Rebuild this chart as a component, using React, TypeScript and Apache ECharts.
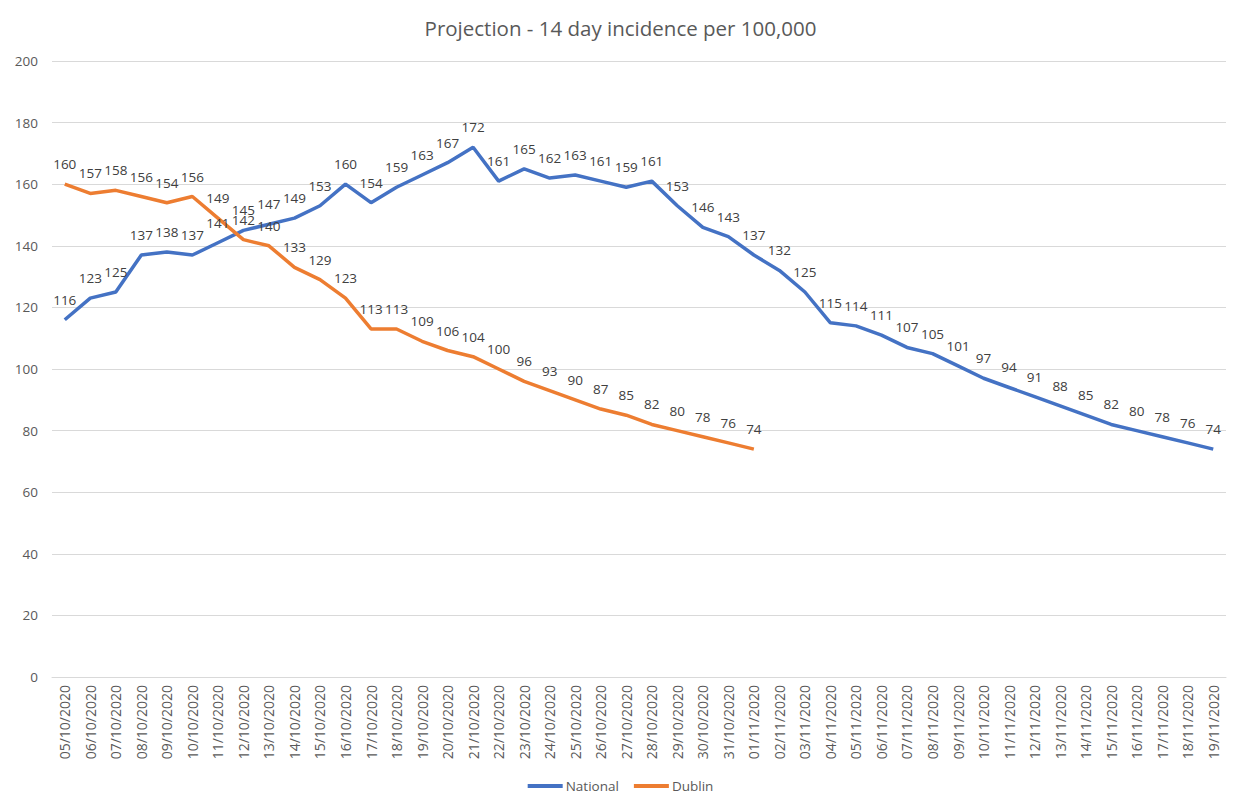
import React, { useEffect, useRef } from "react";
import * as echarts from "echarts";

const octDays = Array.from({ length: 27 }, (_, i) => i + 5);
const novDays = Array.from({ length: 19 }, (_, i) => i + 1);
const pad = (n: number) => (n < 10 ? "0" + n : String(n));
const categories: string[] = [
  ...octDays.map((d) => `${pad(d)}/10/2020`),
  ...novDays.map((d) => `${pad(d)}/11/2020`),
];

const national = [
  116, 123, 125, 137, 138, 137, 141, 145, 147, 149, 153, 160, 154, 159, 163, 167, 172,
  161, 165, 162, 163, 161, 159, 161, 153, 146, 143, 137, 132, 125, 115, 114, 111, 107,
  105, 101, 97, 94, 91, 88, 85, 82, 80, 78, 76, 74,
];

const dublin = [
  160, 157, 158, 156, 154, 156, 149, 142, 140, 133, 129, 123, 113, 113, 109, 106, 104,
  100, 96, 93, 90, 87, 85, 82, 80, 78, 76, 74,
];

const FONT = "Open Sans, Noto Sans, sans-serif";

export default function App() {
  const ref = useRef<HTMLDivElement>(null);
  useEffect(() => {
    if (!ref.current) return;
    const chart = echarts.init(ref.current, undefined, { renderer: "svg" });
    const label = {
      show: true,
      position: "top" as const,
      distance: 13,
      color: "#404040",
      fontSize: 13.5,
      fontFamily: FONT,
      opacity: 1,
    };
    const lineSeries = (name: string, data: number[], color: string) => ({
      name,
      type: "line",
      data,
      showSymbol: true,
      symbol: "circle",
      symbolSize: 0,
      lineStyle: { color, width: 3.5 },
      itemStyle: { color },
      label,
      labelLayout: { hideOverlap: false },
    });
    chart.setOption({
      animation: false,
      backgroundColor: "#ffffff",
      title: {
        text: "Projection - 14 day incidence per 100,000",
        left: "center",
        top: 12,
        textStyle: { color: "#595959", fontSize: 20.5, fontWeight: "normal", fontFamily: FONT },
      },
      legend: {
        bottom: 12,
        left: "center",
        icon: "rect",
        itemWidth: 35,
        itemHeight: 4,
        itemGap: 15,
        textStyle: { color: "#595959", fontSize: 13.5, fontFamily: FONT, padding: [0, 0, 0, -2] },
        data: ["National", "Dublin"],
      },
      grid: { left: 52, right: 15, top: 61, bottom: 133, containLabel: false },
      xAxis: {
        type: "category",
        data: categories,
        boundaryGap: true,
        axisLine: { show: true, lineStyle: { color: "#d9d9d9" } },
        axisTick: { show: false },
        axisLabel: {
          rotate: 90,
          interval: 0,
          color: "#595959",
          fontSize: 14,
          fontFamily: FONT,
          margin: 8,
        },
      },
      yAxis: {
        type: "value",
        min: 0,
        max: 200,
        interval: 20,
        axisLine: { show: false },
        axisTick: { show: false },
        splitLine: { lineStyle: { color: "#d9d9d9" } },
        axisLabel: { color: "#595959", fontSize: 13.5, fontFamily: FONT, margin: 14 },
      },
      graphic: [
        {
          type: "line",
          shape: { x1: 3.5, y1: 0, x2: 3.5, y2: 810 },
          style: { stroke: "#d9d9d9", lineWidth: 1 },
        },
      ],
      series: [
        lineSeries("National", national, "#4472C4"),
        lineSeries("Dublin", dublin, "#ED7D31"),
      ],
    });
    return () => chart.dispose();
  }, []);
  return <div ref={ref} style={{ width: 1241, height: 810, margin: -8 }} />;
}
